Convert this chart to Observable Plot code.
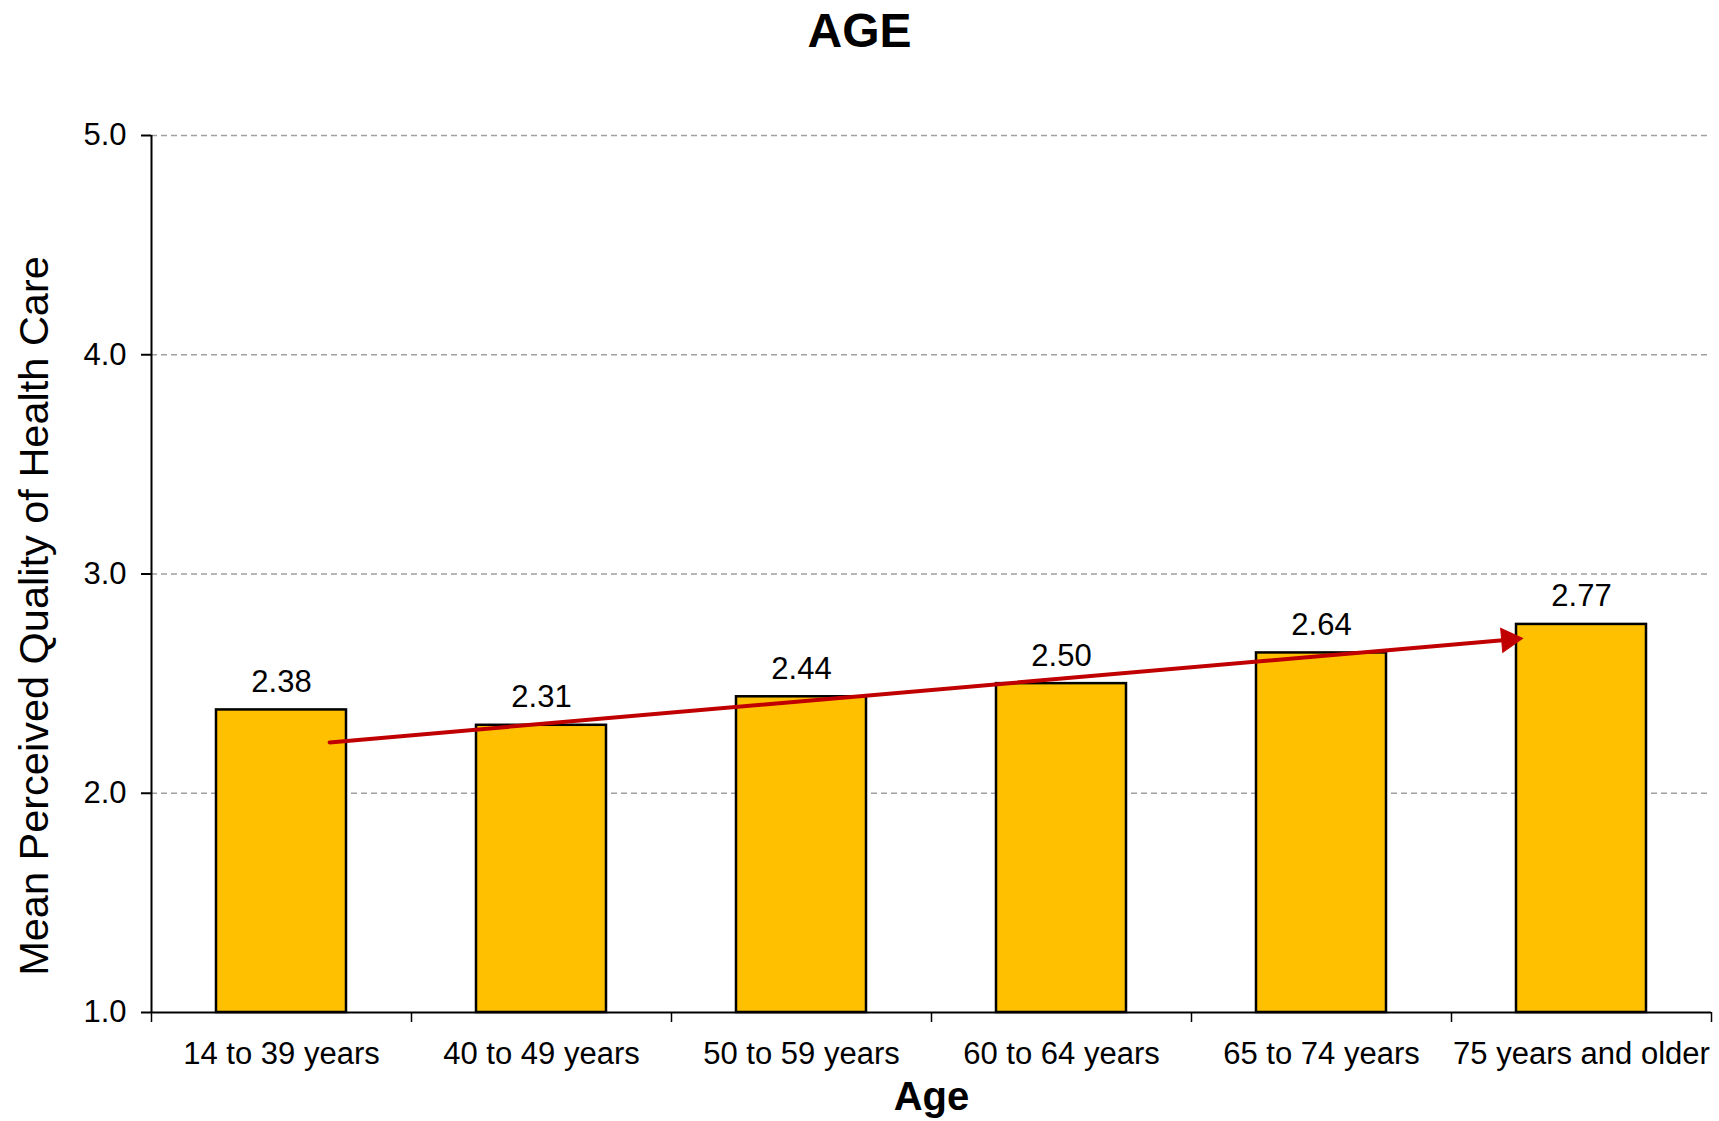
<!DOCTYPE html>
<html>
<head>
<meta charset="utf-8">
<script src="https://cdn.jsdelivr.net/npm/d3@7"></script>
<script src="https://cdn.jsdelivr.net/npm/@observablehq/plot@0.6"></script>
<style>
  html, body { margin: 0; padding: 0; background: #fff; }
  body { width: 1719px; height: 1121px; overflow: hidden; font-family: Arial, "Liberation Sans", sans-serif; }
  #title { height: 70px; line-height: 62px; text-align: center; font-size: 48px; font-weight: bold; color: #000; }
  svg { display: block; }
</style>
</head>
<body>
<div id="title"></div>
<div id="chart"></div>
<script>
const chartTitle = "AGE";
const xTitle = "Age";
const yTitle = "Mean Perceived Quality of Health Care";
const categories = ["14 to 39 years", "40 to 49 years", "50 to 59 years", "60 to 64 years", "65 to 74 years", "75 years and older"];
const values = [2.38, 2.31, 2.44, 2.50, 2.64, 2.77];
const yTicks = [1, 2, 3, 4, 5];
// trend arrow, in category-index units (x) and score units (y)
const arrowStart = [0.685, 2.232];
const arrowEnd = [5.273, 2.706];

document.getElementById("title").textContent = chartTitle;

const data = categories.map((c, i) => ({cat: c, i, value: values[i]}));
const boundaries = d3.range(categories.length + 1);
const centers = categories.map((c, i) => i + 0.5);
const arrowData = [{x1: arrowStart[0], y1: arrowStart[1], x2: arrowEnd[0], y2: arrowEnd[1]}];

const plot = Plot.plot({
  width: 1719,
  height: 1051,
  marginLeft: 151,
  marginRight: 8,
  marginTop: 65,
  marginBottom: 109,
  style: {fontFamily: "Arial, 'Liberation Sans', sans-serif", color: "#000", background: "#fff"},
  x: {type: "linear", domain: [0, categories.length]},
  y: {domain: [1, 5]},
  marks: [
    Plot.ruleY(yTicks.filter(t => t > 1), {stroke: "#a0a0a0", strokeWidth: 1.5, strokeDasharray: "6,4"}),
    Plot.rectY(data, {x1: d => d.i + 0.25, x2: d => d.i + 0.75, y1: 1, y2: "value", fill: "#FFC000", stroke: "#000", strokeWidth: 2.5}),
    Plot.text(data, {x: d => d.i + 0.5, y: "value", text: d => d.value.toFixed(2), dy: -28, fontSize: 31, fill: "#000"}),
    Plot.ruleX([0], {stroke: "#000", strokeWidth: 2}),
    Plot.ruleY([1], {stroke: "#000", strokeWidth: 2}),
    Plot.axisY({ticks: yTicks, tickFormat: d3.format(".1f"), tickSize: 10, tickPadding: 15, fontSize: 31, label: null, stroke: "#000", strokeWidth: 2}),
    Plot.axisX({ticks: boundaries, tickFormat: () => "", tickSize: 10, label: null, stroke: "#000", strokeWidth: 1.5}),
    Plot.axisX({ticks: centers, tickFormat: d => categories[Math.floor(d)], tickSize: 0, tickPadding: 29, fontSize: 31, label: null}),
    Plot.arrow(arrowData, {x1: "x1", y1: "y1", x2: "x2", y2: "y2", stroke: "#C00000", strokeWidth: 4, headLength: 0, insetEnd: 14}),
    Plot.dot(arrowData, {x: "x2", y: "y2", symbol: "triangle", r: 9, rotate: 85, dx: -13.8, dy: 1.2, fill: "#C00000", stroke: "#C00000", strokeWidth: 1}),
    Plot.text([xTitle], {frameAnchor: "bottom", dy: 97, fontSize: 40, fontWeight: "bold", fill: "#000"}),
    Plot.text([yTitle], {frameAnchor: "left", textAnchor: "middle", rotate: -90, dx: -117, dy: 42, fontSize: 41.5, fill: "#000"})
  ]
});
document.getElementById("chart").appendChild(plot);
</script>
</body>
</html>
